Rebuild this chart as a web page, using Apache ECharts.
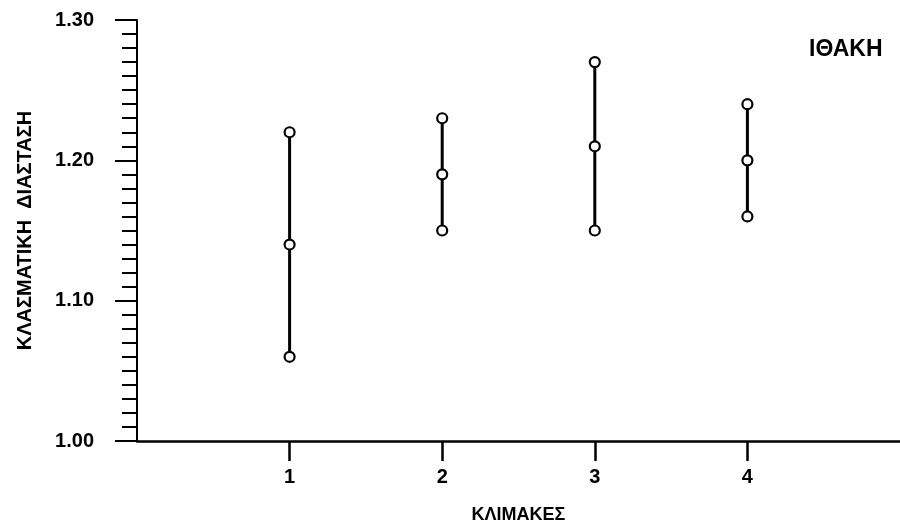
<!DOCTYPE html>
<html>
<head>
<meta charset="utf-8">
<script src="https://cdn.jsdelivr.net/npm/echarts@6/dist/echarts.min.js"></script>
<style>
html,body{margin:0;padding:0;background:#fff;}
#chart{width:900px;height:529px;}
</style>
</head>
<body>
<div id="chart"></div>
<script>
// Data
const scales = [1, 2, 3, 4];
const lowValues = [1.06, 1.15, 1.15, 1.16];
const midValues = [1.14, 1.19, 1.21, 1.20];
const highValues = [1.22, 1.23, 1.27, 1.24];
const yTicks = [1.00, 1.10, 1.20, 1.30];
const xTitle = 'ΚΛΙΜΑΚΕΣ';
const yTitle = 'ΚΛΑΣΜΑΤΙΚΗ  ΔΙΑΣΤΑΣΗ';
const placeLabel = 'ΙΘΑΚΗ';

const FONT = 'Liberation Sans, Arial, sans-serif';
const chart = echarts.init(document.getElementById('chart'), null, {renderer: 'canvas'});

const series = scales.map((s, i) => ({
  type: 'line',
  data: [[s, lowValues[i]], [s, midValues[i]], [s, highValues[i]]],
  symbol: 'circle',
  symbolSize: 10,
  showSymbol: true,
  itemStyle: {color: '#fff', borderColor: '#000', borderWidth: 2.2},
  lineStyle: {color: '#000', width: 3},
  z: 3,
  animation: false
}));

chart.setOption({
  animation: false,
  backgroundColor: '#fff',
  title: {
    text: placeLabel,
    left: 804, top: 33,
    textStyle: {fontFamily: FONT, fontSize: 23, fontWeight: 'bold', color: '#000'}
  },
  grid: {left: 137, right: 0, top: 20, bottom: 88},
  xAxis: {
    type: 'value',
    min: 0, max: 5,
    name: xTitle,
    nameLocation: 'middle',
    nameGap: 65,
    nameTextStyle: {fontFamily: FONT, fontSize: 18, fontWeight: 'bold', color: '#000'},
    splitLine: {show: false},
    axisLine: {show: true, lineStyle: {color: '#000', width: 2.5}},
    axisTick: {show: true, customValues: scales, length: 20, lineStyle: {color: '#000', width: 2.5}},
    axisLabel: {customValues: scales, margin: 26, fontFamily: FONT, fontSize: 20, fontWeight: 'bold', color: '#000'}
  },
  yAxis: {
    type: 'value',
    min: yTicks[0], max: yTicks[yTicks.length - 1], interval: 0.1,
    name: yTitle,
    nameLocation: 'middle',
    nameRotate: 90,
    nameGap: 102,
    nameTextStyle: {fontFamily: FONT, fontSize: 20, fontWeight: 'bold', color: '#000'},
    splitLine: {show: false},
    axisLine: {show: true, lineStyle: {color: '#000', width: 2}},
    axisTick: {show: true, length: 22, lineStyle: {color: '#000', width: 2}},
    minorTick: {show: true, splitNumber: 10, length: 15, lineStyle: {color: '#000', width: 2}},
    axisLabel: {margin: 43, fontFamily: FONT, fontSize: 20, fontWeight: 'bold', color: '#000',
      formatter: v => v.toFixed(2)}
  },
  series: series
});
</script>
</body>
</html>
